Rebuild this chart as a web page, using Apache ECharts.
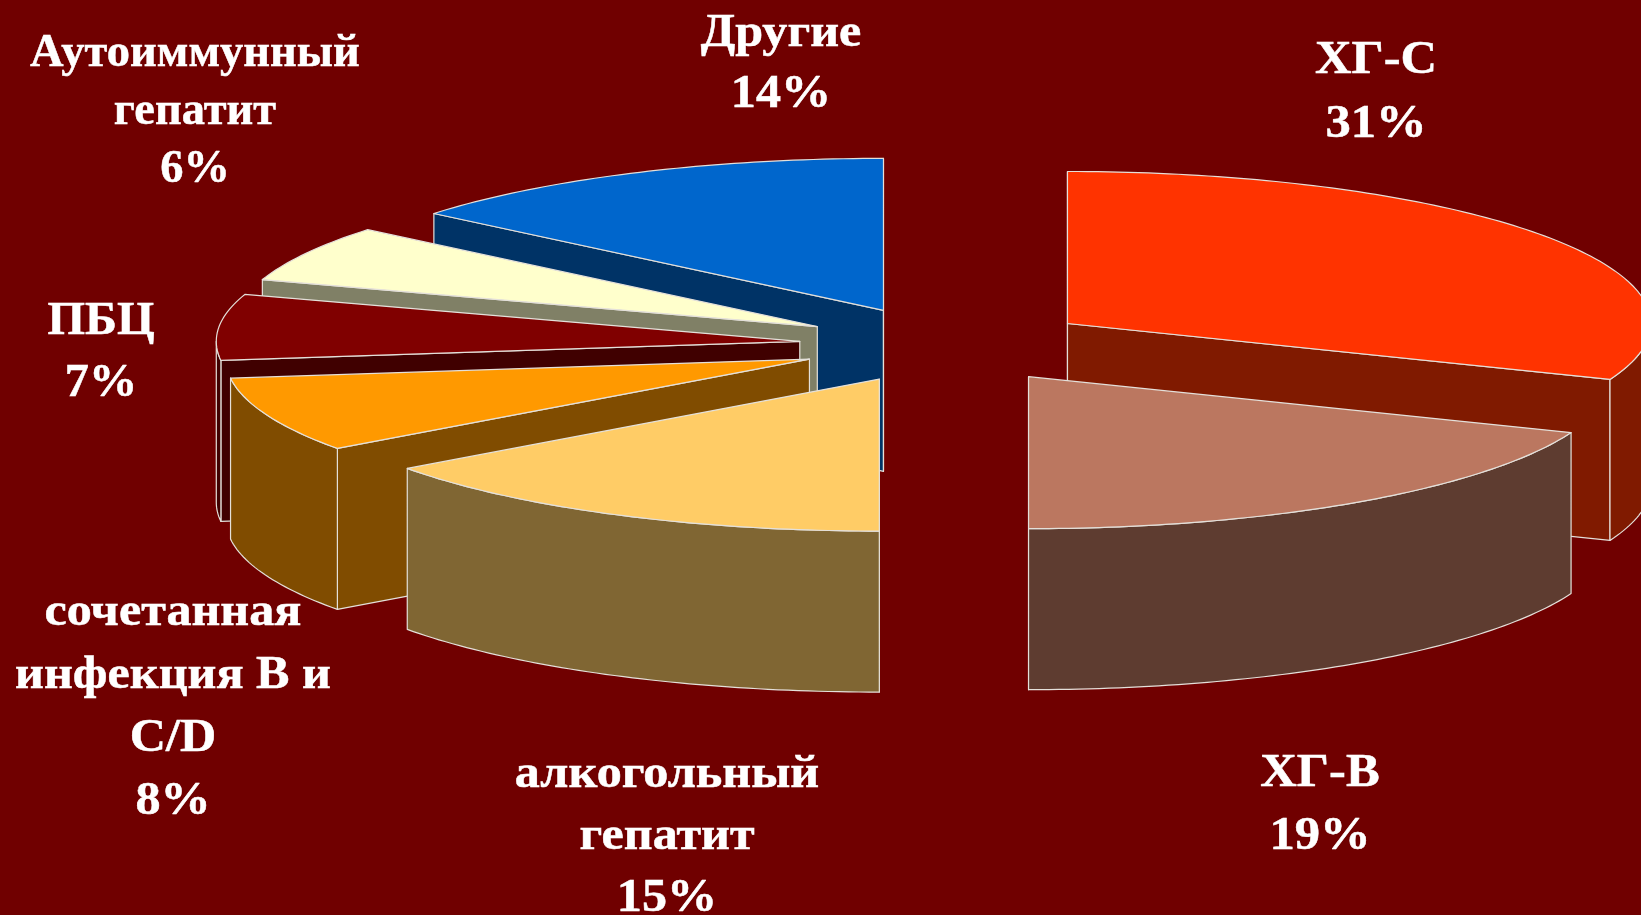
<!DOCTYPE html>
<html lang="ru">
<head>
<meta charset="utf-8">
<title>Этиология</title>
<style>
  html, body { margin: 0; padding: 0; background: #700000; }
  #chart { width: 1641px; height: 915px; }
</style>
<script src="https://cdn.jsdelivr.net/npm/echarts@6/dist/echarts.min.js"></script>
</head>
<body>
<div id="chart"></div>
<script>
// Shares of each cause, clockwise from twelve o'clock
const sliceNames = ['ХГ-С', 'ХГ-В', 'алкогольный\nгепатит', 'сочетанная\nинфекция В и\nC/D', 'ПБЦ', 'Аутоиммунный\nгепатит', 'Другие'];
const sliceValues = [31, 19, 15, 8, 7, 6, 14];
const topColors = ['#FF3300', '#BB7760', '#FFCC66', '#FF9900', '#800000', '#FFFFCC', '#0066CC'];
const wallColors = ['#801A00', '#5E3C30', '#806633', '#804C00', '#400000', '#808066', '#003366'];

// Label block centres, line heights and horizontal stretch, in slice order
const labelCentres = [[1376, 93], [1320, 806], [667, 837], [173, 708], [101, 353], [195, 112], [781, 65]];
const labelLineHeights = [64, 63, 62, 63, 62, 58, 61];
const labelStretch = [1.1, 1.1, 1.09, 1.09, 1.05, 1.01, 1.09];

// Tilted-disc projection of the pie
const disc = { cx: 946, cy: 345, rx: 583.5, ry: 152, depth: 161, explode: 0.2517 };
const edgeStyle = { stroke: '#E4E0DA', lineWidth: 1.2, lineJoin: 'round' };

const total = sliceValues.reduce((a, b) => a + b, 0);
const startShare = sliceValues.map((_, i) => sliceValues.slice(0, i).reduce((a, b) => a + b, 0) / total);
const EPS = 1e-6;

// Point on the rim for an angle measured clockwise from the top
function rim(apex, angle) {
  return [apex[0] + disc.rx * Math.sin(angle), apex[1] - disc.ry * Math.cos(angle)];
}

function arcPoints(apex, from, to) {
  const steps = Math.max(2, Math.ceil((to - from) / (Math.PI / 180)));
  const pts = [];
  for (let k = 0; k <= steps; k++) pts.push(rim(apex, from + (to - from) * k / steps));
  return pts;
}

const drop = (p) => [p[0], p[1] + disc.depth];

function polygon(points, fill, z2) {
  return { type: 'polygon', z2, shape: { points }, style: Object.assign({ fill }, edgeStyle) };
}

function renderSlice(params, api) {
  const i = params.dataIndex;
  const share = api.value(0) / total;
  const from = startShare[i] * 2 * Math.PI;
  const to = from + share * 2 * Math.PI;
  const mid = (from + to) / 2;

  // Every slice is pulled out along its own bisector
  const apex = [
    disc.cx + disc.explode * disc.rx * Math.sin(mid),
    disc.cy - disc.explode * disc.ry * Math.cos(mid)
  ];

  // Paint back to front: slices nearer the viewer sit on top
  const base = Math.round(apex[1]) * 10;
  const wall = wallColors[i];
  const children = [];

  // Cut faces are drawn only when they turn towards the viewer
  if (Math.sin(from) <= EPS) {
    const e = rim(apex, from);
    children.push(polygon([apex, e, drop(e), drop(apex)], wall, base));
  }
  if (Math.sin(to) >= -EPS) {
    const e = rim(apex, to);
    children.push(polygon([apex, e, drop(e), drop(apex)], wall, base));
  }

  // Outer wall only exists on the near half of the rim
  const nearFrom = Math.max(from, Math.PI / 2);
  const nearTo = Math.min(to, 3 * Math.PI / 2);
  if (nearTo > nearFrom) {
    const edge = arcPoints(apex, nearFrom, nearTo);
    children.push(polygon(edge.concat(edge.map(drop).reverse()), wall, base + 1));
  }

  children.push(polygon([apex].concat(arcPoints(apex, from, to)), topColors[i], base + 2));

  children.push({
    type: 'text',
    z2: 100000,
    x: labelCentres[i][0],
    y: labelCentres[i][1],
    scaleX: labelStretch[i],
    style: {
      text: sliceNames[i] + '\n' + api.value(0) + '%',
      fill: '#FFFFFF',
      stroke: '#FFFFFF',
      lineWidth: 0.5,
      font: 'bold 46px "Liberation Serif", serif',
      lineHeight: labelLineHeights[i],
      align: 'center',
      verticalAlign: 'middle'
    }
  });

  return { type: 'group', children };
}

const chart = echarts.init(document.getElementById('chart'));
chart.setOption({
  animation: false,
  backgroundColor: '#700000',
  tooltip: { show: false },
  series: [{
    type: 'custom',
    coordinateSystem: 'none',
    renderItem: renderSlice,
    data: sliceValues.map((v, i) => ({ name: sliceNames[i], value: [v] })),
    silent: true
  }]
});
</script>
</body>
</html>
